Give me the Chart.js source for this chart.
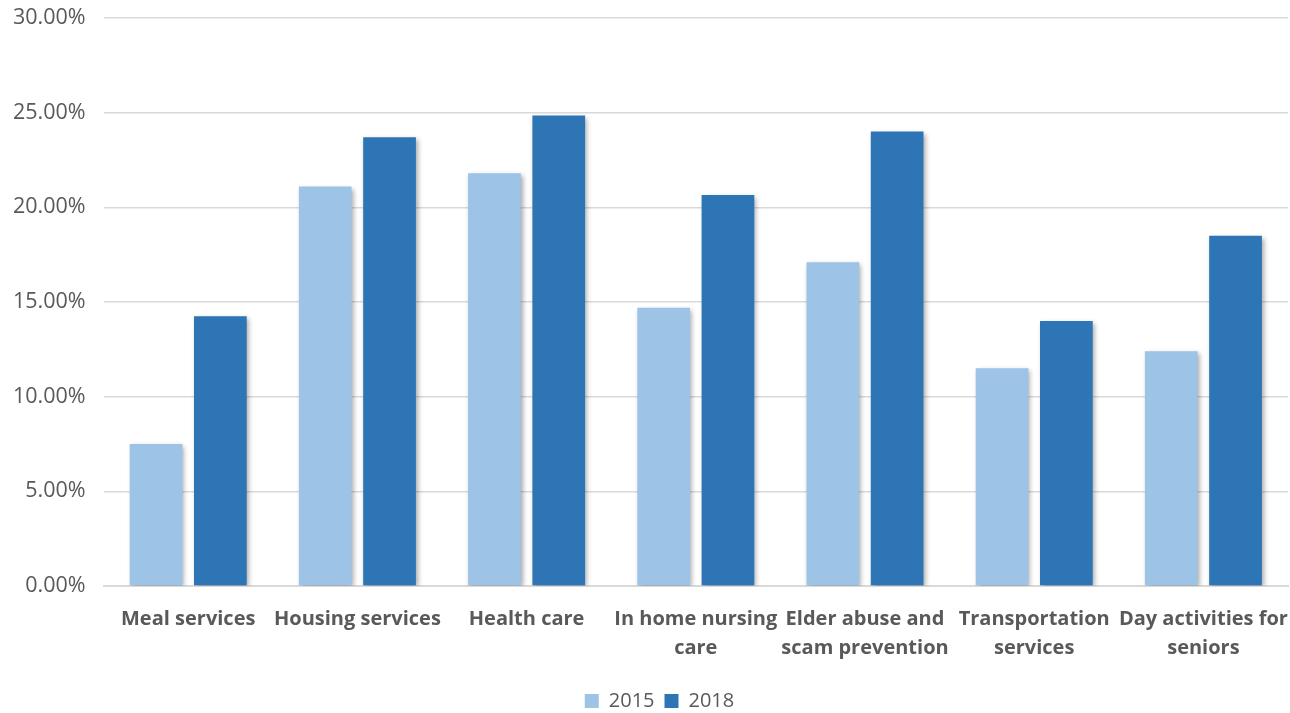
<!DOCTYPE html>
<html>
<head>
<meta charset="utf-8">
<script src="https://cdn.jsdelivr.net/npm/chart.js@4/dist/chart.umd.min.js"></script>
<style>
  html, body { margin: 0; padding: 0; background: #fff; }
  #wrap { width: 1290px; height: 713px; }
</style>
</head>
<body>
<div id="wrap"><canvas id="chart"></canvas></div>
<script>
const categories = [
    'Meal services',
    'Housing services',
    'Health care',
    ['In home nursing', 'care'],
    ['Elder abuse and', 'scam prevention'],
    ['Transportation', 'services'],
    ['Day activities for', 'seniors']
]
const values2015 = [7.5, 21.1, 21.8, 14.7, 17.1, 11.5, 12.4]
const values2018 = [14.25, 23.7, 24.85, 20.65, 24.0, 14.0, 18.5]
const seriesNames = ['2015', '2018']

const fontFamily = '"Open Sans", sans-serif'
const textColor = '#595959'

// soft drop shadow behind the bars, like the office chart
const barShadow = {
    id: 'barShadow',
    afterLayout(chart) {
        // legend sits a bit right of the page centre in the original
        chart.legend.left += 18
        chart.legend.right += 18
    },
    beforeDatasetsDraw(chart) {
        const ctx = chart.ctx
        ctx.save()
        ctx.shadowColor = 'rgba(0,0,0,0.35)'
        ctx.shadowBlur = 5
        ctx.shadowOffsetX = 2
        ctx.shadowOffsetY = 2
    },
    afterDatasetsDraw(chart) {
        chart.ctx.restore()
    }
}

const data = {
    labels: categories,
    datasets: [{
        label: seriesNames[0],
        data: values2015,
        backgroundColor: '#9dc3e6'
    }, {
        label: seriesNames[1],
        data: values2018,
        backgroundColor: '#2e75b6'
    }]
}

const config = {
    type: 'bar',
    data: data,
    options: {
        responsive: true,
        maintainAspectRatio: false,
        animation: false,
        layout: { padding: { top: 18, right: 2, left: -5, bottom: -8 } },
        datasets: {
            bar: { categoryPercentage: 0.76, barPercentage: 0.82 }
        },
        scales: {
            x: {
                grid: { display: false },
                border: { color: '#d9d9d9', width: 2 },
                ticks: {
                    color: textColor,
                    font: { family: fontFamily, size: 20, weight: 'bold', lineHeight: 1.45 },
                    maxRotation: 0,
                    autoSkip: false,
                    padding: 11
                },
                afterFit(scale) {
                    scale.height += 7
                    scale.paddingRight = 0
                }
            },
            y: {
                min: 0,
                max: 30,
                ticks: {
                    stepSize: 5,
                    color: textColor,
                    font: { family: fontFamily, size: 21.5 },
                    padding: 18,
                    callback: v => v.toFixed(2) + '%'
                },
                grid: { color: '#d9d9d9', lineWidth: 1.5, drawTicks: false },
                border: { display: false },
                afterFit(scale) {
                    scale.paddingTop = 0
                }
            }
        },
        plugins: {
            legend: {
                position: 'bottom',
                labels: {
                    color: textColor,
                    font: { family: fontFamily, size: 20 },
                    boxWidth: 14,
                    boxHeight: 14,
                    padding: 10
                }
            },
            tooltip: { enabled: false }
        }
    },
    plugins: [barShadow]
}

const barChart = new Chart(document.getElementById('chart'), config)
</script>
</body>
</html>
